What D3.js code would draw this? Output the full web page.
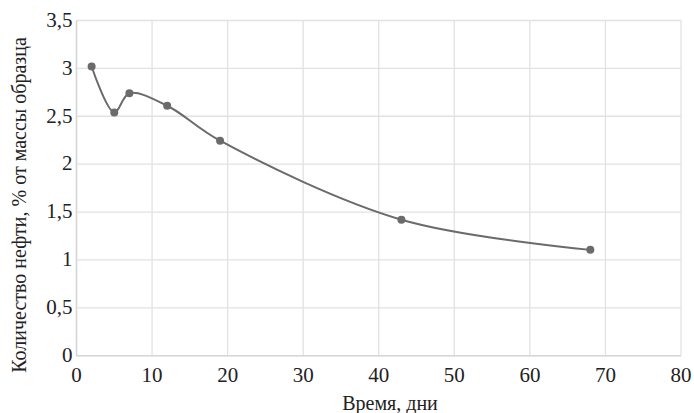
<!DOCTYPE html>
<html><head><meta charset="utf-8">
<script src="https://cdn.jsdelivr.net/npm/d3@7"></script>
<style>body{margin:0;background:#fff}svg{display:block}</style>
</head><body>
<svg id="c" width="694" height="413"></svg>
<script>
const days = [2, 5, 7, 12, 19, 43, 68];
const oil = [3.02, 2.54, 2.74, 2.61, 2.245, 1.42, 1.105];
const xTicks = [0, 10, 20, 30, 40, 50, 60, 70, 80];
const yTicks = [0, 0.5, 1, 1.5, 2, 2.5, 3, 3.5];
const yTickLabels = ["0", "0,5", "1", "1,5", "2", "2,5", "3", "3,5"];
const xTitle = "Время, дни";
const yTitle = "Количество нефти, % от массы образца";

const svg = d3.select("#c");
const L = 76.5, R = 681, T = 20.5, B = 355.7;
const x = d3.scaleLinear().domain([0, 80]).range([L, R]);
const y = d3.scaleLinear().domain([0, 3.5]).range([B, T]);
const grid = "#e2e2e2";
const FF = "Times New Roman";

svg.append("g").selectAll("line").data(xTicks).join("line")
  .attr("x1", d => x(d)).attr("x2", d => x(d)).attr("y1", T).attr("y2", B)
  .attr("stroke", grid).attr("stroke-width", 1.3);
svg.append("g").selectAll("line").data(yTicks).join("line")
  .attr("x1", L).attr("x2", R).attr("y1", d => y(d)).attr("y2", d => y(d))
  .attr("stroke", grid).attr("stroke-width", 1.3);
svg.append("line").attr("x1", L).attr("x2", R).attr("y1", B).attr("y2", B).attr("stroke", "#d6d6d6").attr("stroke-width", 1.5);
svg.append("line").attr("x1", L).attr("x2", L).attr("y1", T).attr("y2", B).attr("stroke", "#d6d6d6").attr("stroke-width", 1.5);

svg.append("g").selectAll("text").data(xTicks).join("text")
  .attr("x", d => x(d)).attr("y", 382).attr("text-anchor", "middle")
  .attr("font-family", FF).attr("font-size", 21).attr("fill", "#222")
  .text(d => d);
svg.append("g").selectAll("text").data(yTicks).join("text")
  .attr("x", 72.5).attr("y", d => y(d)).attr("dy", "0.3em").attr("text-anchor", "end")
  .attr("font-family", FF).attr("font-size", 21).attr("fill", "#222")
  .text((d, i) => yTickLabels[i]);

svg.append("text").attr("x", 390).attr("y", 410).attr("text-anchor", "middle")
  .attr("font-family", FF).attr("font-size", 20).attr("fill", "#222").text(xTitle);
svg.append("text").attr("transform", "translate(26,205) rotate(-90)").attr("text-anchor", "middle")
  .attr("font-family", FF).attr("font-size", 20).attr("fill", "#222").text(yTitle);

const pts = days.map((d, i) => [d, oil[i]]);
const line = d3.line().x(d => x(d[0])).y(d => y(d[1])).curve(d3.curveCatmullRom.alpha(0.5));
const col = "#6b6b6e";
svg.append("path").datum(pts).attr("d", line).attr("fill", "none").attr("stroke", col).attr("stroke-width", 2);
svg.append("g").selectAll("circle").data(pts).join("circle")
  .attr("cx", d => x(d[0])).attr("cy", d => y(d[1])).attr("r", 4).attr("fill", col);
</script>
</body></html>
